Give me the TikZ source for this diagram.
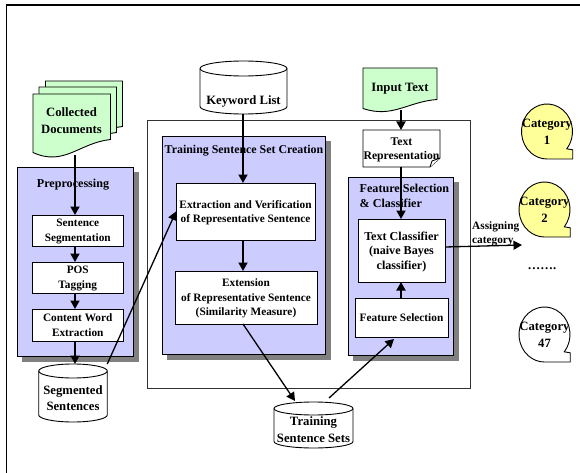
\documentclass[tikz,border=0pt]{standalone}
\usepackage{fontspec}
\setmainfont{Liberation Serif}
\usetikzlibrary{arrows.meta}
\usetikzlibrary{shadows}
\definecolor{panelBlue}{HTML}{CCCCFF}
\definecolor{docGreen}{HTML}{CCFFCC}
\definecolor{catYellow}{HTML}{FFFF99}
\tikzset{
  flow/.style = {color=black, line width=1.8pt, -{Triangle[length=8.5pt,width=9pt]}},
  flowThin/.style = {color=black, line width=1.3pt, -{Triangle[length=8.5pt,width=9pt]}},
  txtBig/.style = {font=\fontsize{12.7}{16.8}\selectfont\bfseries, align=center, inner sep=0pt, text depth=0pt},
  txtMid/.style = {font=\fontsize{12.1}{14.4}\selectfont\bfseries, align=center, inner sep=0pt, text depth=0pt},
  txtSmall/.style = {font=\fontsize{11.3}{14.5}\selectfont\bfseries, align=center, inner sep=0pt, text depth=0pt},
  sized/.style 2 args = {minimum width=#1, minimum height=#2, inner sep=0pt, outer sep=0pt},
  outline/.style = {draw=black, line width=0.9pt},
  panel/.style = {outline, fill=panelBlue, copy shadow={draw=gray, fill=gray, shadow xshift=5pt, shadow yshift=-5pt}},
  procBox/.style = {outline, fill=white, txtSmall}
}
\newcommand{\docshape}[5][docGreen]{%
  % #1: kitoltes
  % #2: nev
  % #3: kozeppont
  % #4: szelesseg
  % #5: magassag
  \begin{scope}[shift={(#3)}]
    \draw[outline, fill=#1] (-0.5*#4,-0.5*#5) -- (0.5*#4,-0.5*#5) -- (0.5*#4,0.2*#5)
      .. controls (0.1*#4,0.25*#5) and (-0.1*#4,0.62*#5) .. (-0.5*#4,0.4*#5) -- cycle;
    \node[sized={#4 pt}{#5 pt}] (#2) at (0,0) {};
  \end{scope}
}
\newcommand{\dbshape}[5]{%
  % #1: nev
  % #2: kozeppont
  % #3: szelesseg
  % #4: magassag
  % #5: ellipszis fel-magassaga
  \begin{scope}[shift={(#2)}]
    \draw[outline, fill=white] (-0.5*#3,-0.5*#4+#5) arc[start angle=180, end angle=360, x radius=0.5*#3, y radius=#5]
      -- (0.5*#3,0.5*#4-#5) arc[start angle=0, end angle=180, x radius=0.5*#3, y radius=#5] -- cycle;
    \draw[outline] (-0.5*#3,-0.5*#4+#5) arc[start angle=180, end angle=0, x radius=0.5*#3, y radius=#5];
    \node[sized={#3 pt}{#4 pt}] (#1) at (0,0) {};
  \end{scope}
}
\newcommand{\catbubble}[4][white]{%
  % #1: kitoltes
  % #2: nev
  % #3: kozeppont
  % #4: felirat
  \begin{scope}[shift={(#3)}]
    \draw[outline, fill=#1] (39:25.5 and 27.5) arc[start angle=39, end angle=-270, x radius=25.5, y radius=27.5]
      -- (25.7,27.5) -- (25.7,18.3) -- cycle;
    \node[txtBig] (#2) at (0,0) {#4};
  \end{scope}
}

\begin{document}
\begin{tikzpicture}[x=1pt,y=-1pt]
    \useasboundingbox (0,0) rectangle (580,473);

    % Frame
    \draw[black, line width=1.6pt] (6.5,473) -- (6.5,5) -- (580,5);
    \node[sized={323pt}{268pt}, draw=black!80, line width=0.9pt, fill=white] (mainFrame) at (308.5,254) {};

    % Preprocessing
    \node[panel, sized={116pt}{189pt}] (prepPanel) at (75.5,261.5) {};
    \node[txtMid] (prepTitle) at (73,183) {Preprocessing};
    \node[procBox, sized={90.5pt}{31pt}] (sentSeg) at (77.75,230.5) {Sentence\\Segmentation};
    \node[procBox, sized={90.5pt}{31pt}] (posTag) at (77.75,277.5) {POS\\Tagging};
    \node[procBox, sized={90.5pt}{32pt}] (contentWord) at (77.75,325) {Content Word\\Extraction};

    % Training sentence sets
    \node[panel, sized={163pt}{218pt}] (trainPanel) at (243.5,245) {};
    \node[txtSmall, font=\fontsize{11.9}{14.5}\selectfont\bfseries] (trainTitle) at (244,149) {Training Sentence Set Creation};
    \node[procBox, sized={139pt}{57pt}] (extractBox) at (245.5,211.5) {Extraction and Verification\\of Representative Sentence};
    \node[procBox, sized={142pt}{53pt}] (extendBox) at (246,297.5) {Extension\\of Representative Sentence\\(Similarity Measure)};

    % Feature selection
    \node[panel, sized={105pt}{178pt}] (featPanel) at (400.5,266) {};
    \node[txtMid, align=left, anchor=west] (featTitle) at (359.5,196) {Feature Selection\\\& Classifier};
    \node[procBox, txtMid, sized={87pt}{63pt}] (textClf) at (401.5,250.5) {Text Classifier\\(naive Bayes\\classifier)};
    \node[procBox, sized={93pt}{39pt}] (featSel) at (401.5,317.5) {Feature Selection};

    % Documents
    \docshape{docBack}{84,113.5}{77}{65}
    \docshape{docMid}{77.75,119.5}{77.5}{65}
    \docshape{docFront}{71.75,126.5}{77.5}{65}
    \node[txtBig] (docText) at (71.5,120.5) {Collected\\Documents};
    \docshape{inputDoc}{400,90.5}{74}{45}
    \node[txtBig] (inputText) at (400,87) {Input Text};
    \draw[outline, fill=white] (363,130) -- (440,130) -- (440,158) -- (430,167) -- (363,167) -- cycle;
    \draw[outline, fill=white] (430,167) -- (432,161) -- (440,158);
    \node[txtMid, font=\fontsize{11.7}{14.4}\selectfont\bfseries, sized={77pt}{37pt}] (textRep) at (401.5,148.5) {Text\\Representation};

    % Databases
    \dbshape{keywordDb}{243.5,87.5}{87}{53}{7.5}
    \node[txtBig] (keywordText) at (243.5,100) {Keyword List};
    \dbshape{segDb}{73,393}{68.5}{58}{7}
    \node[txtBig] (segText) at (73,398) {Segmented\\Sentences};
    \dbshape{trainDb}{313.5,425}{79}{46}{6.5}
    \node[txtBig] (trainText) at (313.5,429.5) {Training\\Sentence Sets};

    % Categories
    \catbubble[catYellow]{catOne}{547,131.5}{Category\\1}
    \catbubble[catYellow]{catTwo}{544.5,209.5}{Category\\2}
    \node[txtBig] (catDots) at (542,268.5) {…….};
    \catbubble{catLast}{544.5,334.5}{Category\\47}

    % Connectors
    \coordinate (prepAxis) at (75,155);
    \coordinate (keyAxis) at (243,114);
    \coordinate (inputAxis) at (401,110);
    \draw[flow] (prepAxis) -- (prepAxis |- sentSeg.north);
    \draw[flow] (prepAxis |- sentSeg.south) -- (prepAxis |- posTag.north);
    \draw[flow] (prepAxis |- posTag.south) -- (prepAxis |- contentWord.north);
    \draw[flow] (prepAxis |- contentWord.south) -- (prepAxis |- segDb.north);
    \draw[flowThin] (segDb.north east) -- (extractBox.west);
    \draw[flow] (keyAxis) -- (keyAxis |- extractBox.north);
    \draw[flow] (keyAxis |- extractBox.south) -- (keyAxis |- extendBox.north);
    \coordinate (extendOut) at (243,324);
    \coordinate (trainIn) at (295,401);
    \coordinate (trainOut) at (329,398);
    \coordinate (featIn) at (394,339);
    \draw[flowThin] (extendOut) -- (trainIn);
    \draw[flowThin] (trainOut) -- (featIn);
    \draw[flow] (inputAxis) -- (inputAxis |- textRep.north);
    \draw[flow] (inputAxis |- textRep.south) -- (inputAxis |- textClf.north);
    \draw[flow] (inputAxis |- featSel.north) -- (inputAxis |- textClf.south);
    \coordinate (clfOut) at (445,247);
    \coordinate (catIn) at (522,245);
    \draw[flowThin] (clfOut) -- (catIn);
    \node[txtSmall, align=left, anchor=west] (assignLabel) at (472,232.5) {Assigning\\category};

\end{tikzpicture}
\end{document}
